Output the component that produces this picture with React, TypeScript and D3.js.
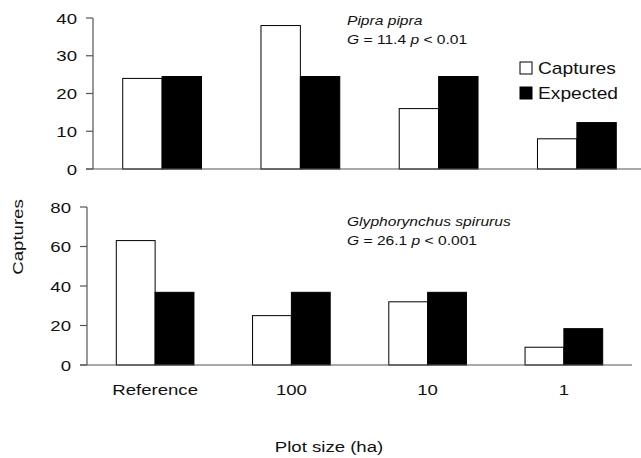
import React from "react";
import * as d3 from "d3";

const categories = ["Reference", "100", "10", "1"];
const series = ["Captures", "Expected"];
const pipraCaptures = [24, 38, 16, 8];
const pipraExpected = [24.5, 24.5, 24.5, 12.3];
const glyphCaptures = [63, 25, 32, 9];
const glyphExpected = [36.8, 36.8, 36.8, 18.4];
const pipraTicks = [0, 10, 20, 30, 40];
const glyphTicks = [0, 20, 40, 60, 80];

const FONT = "'Liberation Sans', Arial, Helvetica, sans-serif";
const SX = 1.2;

function T({ x, y, size, anchor = "start", italic = false, rotate = 0, children }: any) {
  return (
    <text
      transform={`translate(${x},${y}) rotate(${rotate}) scale(${SX},1)`}
      fontFamily={FONT}
      fontSize={size}
      fontStyle={italic ? "italic" : "normal"}
      textAnchor={anchor}
      fill="#111"
    >
      {children}
    </text>
  );
}

function Panel({ caps, exp, ticks, yMax, x0, x1, y0, y1, axisColor, label1, label2, lx, ly }: any) {
  const xg = d3.scaleBand<string>().domain(categories).range([x0, x1]).paddingInner(0.43).paddingOuter(0.215);
  const xs = d3.scaleBand<string>().domain(series).range([0, xg.bandwidth()]);
  const y = d3.scaleLinear().domain([0, yMax]).range([y0, y1]);
  return (
    <g>
      {categories.map((c, i) => (
        <g key={c}>
          {[caps[i], exp[i]].map((v, j) => (
            <rect
              key={j}
              x={(xg(c) as number) + (xs(series[j]) as number)}
              y={y(v)}
              width={xs.bandwidth()}
              height={y(0) - y(v)}
              fill={j === 0 ? "#fff" : "#000"}
              stroke="#000"
              strokeWidth={1}
            />
          ))}
        </g>
      ))}
      <line x1={x0} x2={x0} y1={y(yMax)} y2={y(0)} stroke={axisColor} strokeWidth={1.2} />
      <line x1={x0 - 7} x2={Math.min(x1, 641)} y1={y(0)} y2={y(0)} stroke={axisColor} strokeWidth={1.2} />
      {ticks.map((t: number) => (
        <g key={t}>
          <line x1={x0 - 7} x2={x0} y1={y(t)} y2={y(t)} stroke={axisColor} strokeWidth={1.2} />
          <T x={x0 - 16} y={y(t) + 5.5} size={15.5} anchor="end">{t}</T>
        </g>
      ))}
      <T x={lx} y={ly} size={13} italic>{label1}</T>
      <text transform={`translate(${lx},${ly + 19}) scale(${SX},1)`} fontFamily={FONT} fontSize={13} fill="#111">
        {label2}
      </text>
    </g>
  );
}

export default function App() {
  return (
    <div style={{ position: "absolute", left: 0, top: 0 }}>
      <svg width={641} height={458} style={{ display: "block", background: "#fff" }}>
        <Panel
          caps={pipraCaptures}
          exp={pipraExpected}
          ticks={pipraTicks}
          yMax={40}
          x0={93}
          x1={646}
          y0={169}
          y1={18}
          axisColor="#555"
          label1="Pipra pipra"
          label2={<><tspan fontStyle="italic">G</tspan> = 11.4 <tspan fontStyle="italic">p</tspan> &lt; 0.01</>}
          lx={347}
          ly={25}
        />
        <Panel
          caps={glyphCaptures}
          exp={glyphExpected}
          ticks={glyphTicks}
          yMax={80}
          x0={87}
          x1={632}
          y0={365}
          y1={207}
          axisColor="#555"
          label1="Glyphorynchus spirurus"
          label2={<><tspan fontStyle="italic">G</tspan> = 26.1 <tspan fontStyle="italic">p</tspan> &lt; 0.001</>}
          lx={347}
          ly={226}
        />
        {/* legend */}
        <rect x={520} y={62} width={12} height={12} fill="#fff" stroke="#000" strokeWidth={1} />
        <T x={538} y={74} size={16}>{series[0]}</T>
        <rect x={520} y={87} width={12} height={12} fill="#000" stroke="#000" strokeWidth={1} />
        <T x={538} y={99} size={16}>{series[1]}</T>
        {/* category labels */}
        {categories.map((c, i) => {
          const xg = d3.scaleBand<string>().domain(categories).range([87, 632]).paddingInner(0.43).paddingOuter(0.215);
          return (
            <T key={c} x={(xg(c) as number) + xg.bandwidth() / 2} y={395} size={15.5} anchor="middle">{c}</T>
          );
        })}
        <T x={23} y={237} size={15.5} anchor="middle" rotate={-90}>Captures</T>
        <T x={329} y={452} size={15.5} anchor="middle">Plot size (ha)</T>
      </svg>
    </div>
  );
}
